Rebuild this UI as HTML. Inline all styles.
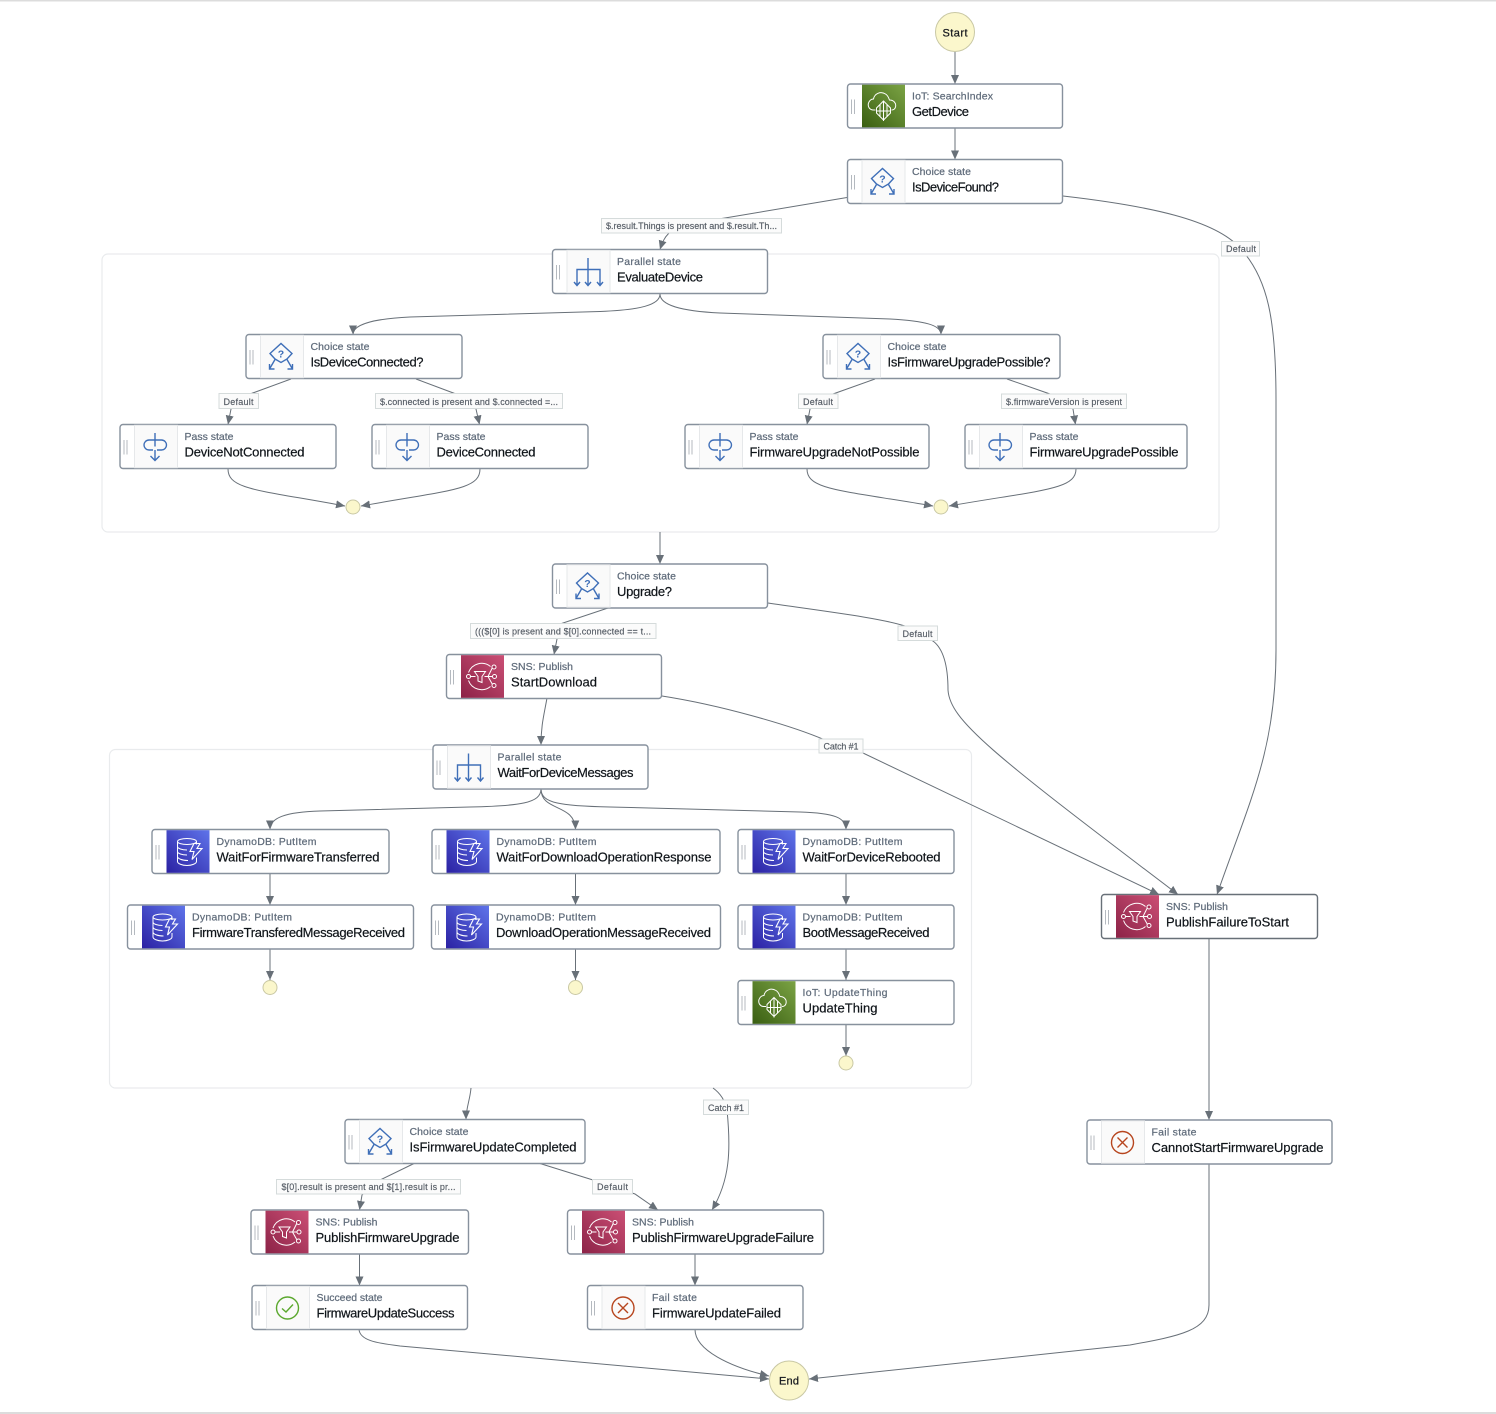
<!DOCTYPE html>
<html lang="en"><head><meta charset="utf-8"><title>State machine</title>
<style>
html,body{margin:0;padding:0;background:#fff;width:1496px;height:1414px;overflow:hidden}
svg{display:block;font-family:"Liberation Sans",sans-serif}
.b{fill:#fff;stroke:#87919d;stroke-width:1.4}
.h{stroke:#b4b9bf;stroke-width:1;fill:none}
.ib{fill:#fafafa;stroke:#e6e8ea;stroke-width:1}
.s{fill:#5f6b7a;font-size:10.5px;stroke:#5f6b7a;stroke-width:.22}
.m{fill:#0f1419;font-size:13px;stroke:#0f1419;stroke-width:.2}
.e{fill:none;stroke:#687078;stroke-width:1;marker-end:url(#a)}
.l{fill:#fbfbfb;stroke:#d5dbdb;stroke-width:1}
.t{fill:#545b64;font-size:9px;stroke:#545b64;stroke-width:.15}
.c{fill:#fbf7cc;stroke:#c9c8a4;stroke-width:1}
.bl{fill:none;stroke:#3f6fb8;stroke-width:1.4}
.w{fill:none;stroke:#fff;stroke-width:1}
.ct{fill:none;stroke:#e9ebed;stroke-width:1.2}
</style></head><body>
<svg width="1496" height="1414" viewBox="0 0 1496 1414" xmlns="http://www.w3.org/2000/svg">
<defs>
<marker id="a" markerUnits="userSpaceOnUse" markerWidth="10" markerHeight="9" refX="9" refY="4" orient="auto"><path d="M0 0L9 4L0 8z" fill="#687078"/></marker>
<linearGradient id="gi" x1="0" y1="1" x2="1" y2="0"><stop offset="0" stop-color="#3a5f12"/><stop offset="1" stop-color="#7ba344"/></linearGradient>
<linearGradient id="gs" x1="0" y1="1" x2="1" y2="0"><stop offset="0" stop-color="#8c2347"/><stop offset="1" stop-color="#cb4f75"/></linearGradient>
<linearGradient id="gd" x1="0" y1="1" x2="1" y2="0"><stop offset="0" stop-color="#2b21a3"/><stop offset="1" stop-color="#5f74ea"/></linearGradient>
<g id="hd"><path class="h" d="M4 15.500V30M7 15.500V30"/></g>
<g id="bgi"><rect class="ib" x="14.500" y=".8" width="43" height="42.4"/></g>
<g id="choice"><use href="#bgi"/><path class="bl" d="M29 24.500L24 19L35 9L46 19L41 24.500L35 28L29 24.500"/><path class="bl" d="M29 25L23.500 34.500M23.500 29.500V34.500H28.500M41 25L46.500 34.500M46.500 29.500V34.500H41.500"/><text x="35" y="23" text-anchor="middle" font-size="10.5" font-weight="bold" fill="#3f6fb8">?</text></g>
<g id="pass"><use href="#bgi"/><path class="bl" d="M35 8.500V22M35 25.500V36M30.500 31.500L35 36L39.500 31.500"/><path class="bl" d="M33 25.500H29C26 25.500 24 23 24 20.500C24 18 26 15.500 29 15.500H41.500C44.500 15.500 46.500 18 46.500 20.500C46.500 23 44.500 25.500 41.500 25.500H37"/></g>
<g id="par"><use href="#bgi"/><path class="bl" d="M35.500 8.500V36M24.500 36V20H47.500V36M21.500 32.500L24.500 36L27.500 32.500M32.500 32.500L35.500 36L38.500 32.500M44.500 32.500L47.500 36L50.500 32.500"/></g>
<g id="ok"><use href="#bgi"/><circle cx="35.500" cy="22.500" r="11" fill="none" stroke="#5ba82e" stroke-width="1.4"/><path d="M30 23L34 26.500L41 19" fill="none" stroke="#5ba82e" stroke-width="1.4"/></g>
<g id="fail"><use href="#bgi"/><circle cx="35.500" cy="22.500" r="11" fill="none" stroke="#b7461f" stroke-width="1.4"/><path d="M30.500 17.500L40.500 27.500M40.500 17.500L30.500 27.500" fill="none" stroke="#b7461f" stroke-width="1.4"/></g>
<g id="iot"><rect x="14.500" y=".7" width="43" height="42.600" fill="url(#gi)"/><path class="w" d="M28 26H26C22 26 20 22.500 21 19C22 16.500 24 15 26 15C27 9.500 33 7 38 10C41 12 41 14 42 16C46 16 49 19 48 23C47.500 25 46 26 44 26"/><path class="w" d="M36 17L43 24V29L36 36L29 29V24zM32.500 21V33M36 17V37M39.500 21V33M29 27H43"/></g>
<g id="sns"><rect x="14.500" y=".7" width="43" height="42.600" fill="url(#gs)"/><path class="w" d="M44 12A14 14 0 0 0 22 18M22 26A14 14 0 0 0 44 32"/><path class="w" d="M28 17H39L35.500 22V28L31.500 26.500V22zM24 22H29M38 22H46M41.500 22L46 13M41.500 22L46 30"/><circle cx="22" cy="22" r="2" fill="#a83058" stroke="#fff"/><circle cx="47.500" cy="12.500" r="2" fill="#a83058" stroke="#fff"/><circle cx="48" cy="22" r="2" fill="#a83058" stroke="#fff"/><circle cx="47.500" cy="31" r="2" fill="#a83058" stroke="#fff"/></g>
<g id="dyn"><rect x="14.500" y=".7" width="43" height="42.600" fill="url(#gd)"/><ellipse class="w" cx="35" cy="12" rx="9.500" ry="3"/><path class="w" d="M25.500 12V32C25.500 34 30 36 35 36C40 36 44.500 34 44.500 32V28M25.500 17C25.500 19 30 20.500 35 20.500M25.500 22C25.500 24 30 25.500 35 25.500M25.500 27C25.500 29 30 31 36 31M44.500 12V15"/><path d="M42 14L48 14L45 19H50L40 30L42 22H38z" fill="none" stroke="#fff" stroke-width="1.1"/></g>
</defs>

<rect x="0" y="0" width="1496" height="1.500" fill="#dcdcdc"/>
<rect x="0" y="1412" width="1496" height="2" fill="#dcdcdc"/>

<rect class="ct" x="102" y="254" width="1117" height="278" rx="6"/>
<rect class="ct" x="109.500" y="749.500" width="862" height="338.500" rx="6"/>

<!-- connectors -->
<path class="e" d="M955 52V84"/>
<path class="e" d="M955 128V159.500"/>
<path class="e" d="M847 197.500L725 218C700 222 690 224 669 233C664 238 662 243 660 249.500"/>
<path class="e" d="M1063 196C1150 206 1215 220 1240 248C1268 278 1276 320 1276 400V650C1276 750 1250 800 1217 894.500"/>
<path class="e" d="M660 294C660 305 640 310 600 311.500L410 317C370 319 353 325 353 334.500"/>
<path class="e" d="M660 294C660 305 680 311 720 313L890 319C925 321 941 325 941 334.500"/>
<path class="e" d="M291 379L250 394L231 409L228 424.500"/>
<path class="e" d="M416 379L456 394L476 409L479.500 424.500"/>
<path class="e" d="M875 379L833 394L810 409L807 424.500"/>
<path class="e" d="M1007 379L1050 394L1073 409L1075.500 424.500"/>
<path class="e" d="M228 469C228 490 260 490 345 506"/>
<path class="e" d="M480 469C480 490 450 490 361 506"/>
<path class="e" d="M807 469C807 490 840 490 933 506"/>
<path class="e" d="M1076 469C1076 490 1040 490 949 506"/>
<path class="e" d="M660 532V564"/>
<path class="e" d="M608 608L560 624L557 639L554 654.500"/>
<path class="e" d="M768 603C830 612 880 618 905 626L933 641C945 650 948 670 948 690C950 720 990 752 1178 894.500"/>
<path class="e" d="M547 698C544 715 541 725 541 745"/>
<path class="e" d="M662 696C720 705 790 725 825 740L863 753L1159 894.500"/>
<path class="e" d="M541 789C541 803 520 806 470 807L320 811C285 812 270 818 270 829.500"/>
<path class="e" d="M541 789C541 812 575 803 575.500 829.500"/>
<path class="e" d="M541 789C541 803 560 806 610 807L800 812C835 813 846 818 846 829.500"/>
<path class="e" d="M270 873.500V905"/>
<path class="e" d="M575.500 873.500V905"/>
<path class="e" d="M846 873.500V905"/>
<path class="e" d="M846 949V980"/>
<path class="e" d="M270 949V980"/>
<path class="e" d="M575.500 949V980"/>
<path class="e" d="M846 1024V1056"/>
<path class="e" d="M1209 939V1120"/>
<path class="e" d="M471 1088C470 1100 466 1108 466 1119.500"/>
<path class="e" d="M713 1088C720 1093 725 1100 727 1110C731 1150 730 1180 712 1210"/>
<path class="e" d="M414 1163.500L380 1180L362 1195L359.500 1210"/>
<path class="e" d="M540 1163.500L593 1180L635 1194L658 1210"/>
<path class="e" d="M359.500 1254V1285.500"/>
<path class="e" d="M695 1254V1285.500"/>
<path class="e" d="M359 1329.500C360 1340 375 1343 400 1346L769 1379"/>
<path class="e" d="M695 1329.500C695 1350 730 1367 769 1376"/>
<path class="e" d="M1209 1164V1305C1209 1330 1180 1336 1130 1345L809 1379"/>

<!-- start / end / joins -->
<circle class="c" cx="955" cy="32" r="19.500"/>
<text x="955" y="36.500" text-anchor="middle" font-size="11" fill="#16191f" stroke="#16191f" stroke-width=".25" textLength="25" lengthAdjust="spacing">Start</text>
<circle class="c" cx="789" cy="1380.500" r="19.500"/>
<text x="789" y="1384.500" text-anchor="middle" font-size="11" fill="#16191f" stroke="#16191f" stroke-width=".25" textLength="20" lengthAdjust="spacing">End</text>
<circle class="c" cx="353" cy="507" r="7"/>
<circle class="c" cx="941" cy="507" r="7"/>
<circle class="c" cx="270" cy="987.500" r="7"/>
<circle class="c" cx="575.500" cy="987.500" r="7"/>
<circle class="c" cx="846" cy="1063" r="7"/>

<!-- nodes -->
<g transform="translate(847.500,84)"><rect class="b" width="215" height="44" rx="3"/><use href="#hd"/><use href="#iot"/><text class="s" x="64.500" y="15.500" textLength="81" lengthAdjust="spacing">IoT: SearchIndex</text><text class="m" x="64.500" y="32" textLength="57" lengthAdjust="spacing">GetDevice</text></g>
<g transform="translate(847.500,159.500)"><rect class="b" width="215" height="44" rx="3"/><use href="#hd"/><use href="#choice"/><text class="s" x="64.500" y="15.500" textLength="59" lengthAdjust="spacing">Choice state</text><text class="m" x="64.500" y="32" textLength="87" lengthAdjust="spacing">IsDeviceFound?</text></g>
<g transform="translate(552.500,249.500)"><rect class="b" width="215" height="44" rx="3"/><use href="#hd"/><use href="#par"/><text class="s" x="64.500" y="15.500" textLength="64" lengthAdjust="spacing">Parallel state</text><text class="m" x="64.500" y="32" textLength="86" lengthAdjust="spacing">EvaluateDevice</text></g>
<g transform="translate(246,334.500)"><rect class="b" width="216" height="44" rx="3"/><use href="#hd"/><use href="#choice"/><text class="s" x="64.500" y="15.500" textLength="59" lengthAdjust="spacing">Choice state</text><text class="m" x="64.500" y="32" textLength="113" lengthAdjust="spacing">IsDeviceConnected?</text></g>
<g transform="translate(823,334.500)"><rect class="b" width="237" height="44" rx="3"/><use href="#hd"/><use href="#choice"/><text class="s" x="64.500" y="15.500" textLength="59" lengthAdjust="spacing">Choice state</text><text class="m" x="64.500" y="32" textLength="163" lengthAdjust="spacing">IsFirmwareUpgradePossible?</text></g>
<g transform="translate(120,424.500)"><rect class="b" width="216" height="44" rx="3"/><use href="#hd"/><use href="#pass"/><text class="s" x="64.500" y="15.500" textLength="49" lengthAdjust="spacing">Pass state</text><text class="m" x="64.500" y="32" textLength="120" lengthAdjust="spacing">DeviceNotConnected</text></g>
<g transform="translate(372,424.500)"><rect class="b" width="216" height="44" rx="3"/><use href="#hd"/><use href="#pass"/><text class="s" x="64.500" y="15.500" textLength="49" lengthAdjust="spacing">Pass state</text><text class="m" x="64.500" y="32" textLength="99" lengthAdjust="spacing">DeviceConnected</text></g>
<g transform="translate(685,424.500)"><rect class="b" width="244" height="44" rx="3"/><use href="#hd"/><use href="#pass"/><text class="s" x="64.500" y="15.500" textLength="49" lengthAdjust="spacing">Pass state</text><text class="m" x="64.500" y="32" textLength="170" lengthAdjust="spacing">FirmwareUpgradeNotPossible</text></g>
<g transform="translate(965,424.500)"><rect class="b" width="222" height="44" rx="3"/><use href="#hd"/><use href="#pass"/><text class="s" x="64.500" y="15.500" textLength="49" lengthAdjust="spacing">Pass state</text><text class="m" x="64.500" y="32" textLength="149" lengthAdjust="spacing">FirmwareUpgradePossible</text></g>
<g transform="translate(552.500,564)"><rect class="b" width="215" height="44" rx="3"/><use href="#hd"/><use href="#choice"/><text class="s" x="64.500" y="15.500" textLength="59" lengthAdjust="spacing">Choice state</text><text class="m" x="64.500" y="32" textLength="55" lengthAdjust="spacing">Upgrade?</text></g>
<g transform="translate(446.500,654.500)"><rect class="b" width="215" height="44" rx="3"/><use href="#hd"/><use href="#sns"/><text class="s" x="64.500" y="15.500" textLength="62" lengthAdjust="spacing">SNS: Publish</text><text class="m" x="64.500" y="32" textLength="86" lengthAdjust="spacing">StartDownload</text></g>
<g transform="translate(433,745)"><rect class="b" width="215" height="44" rx="3"/><use href="#hd"/><use href="#par"/><text class="s" x="64.500" y="15.500" textLength="64" lengthAdjust="spacing">Parallel state</text><text class="m" x="64.500" y="32" textLength="136" lengthAdjust="spacing">WaitForDeviceMessages</text></g>
<g transform="translate(152,829.500)"><rect class="b" width="237" height="44" rx="3"/><use href="#hd"/><use href="#dyn"/><text class="s" x="64.500" y="15.500" textLength="100" lengthAdjust="spacing">DynamoDB: PutItem</text><text class="m" x="64.500" y="32" textLength="163" lengthAdjust="spacing">WaitForFirmwareTransferred</text></g>
<g transform="translate(432,829.500)"><rect class="b" width="288" height="44" rx="3"/><use href="#hd"/><use href="#dyn"/><text class="s" x="64.500" y="15.500" textLength="100" lengthAdjust="spacing">DynamoDB: PutItem</text><text class="m" x="64.500" y="32" textLength="215" lengthAdjust="spacing">WaitForDownloadOperationResponse</text></g>
<g transform="translate(738,829.500)"><rect class="b" width="216" height="44" rx="3"/><use href="#hd"/><use href="#dyn"/><text class="s" x="64.500" y="15.500" textLength="100" lengthAdjust="spacing">DynamoDB: PutItem</text><text class="m" x="64.500" y="32" textLength="138" lengthAdjust="spacing">WaitForDeviceRebooted</text></g>
<g transform="translate(127.500,905)"><rect class="b" width="286" height="44" rx="3"/><use href="#hd"/><use href="#dyn"/><text class="s" x="64.500" y="15.500" textLength="100" lengthAdjust="spacing">DynamoDB: PutItem</text><text class="m" x="64.500" y="32" textLength="213" lengthAdjust="spacing">FirmwareTransferedMessageReceived</text></g>
<g transform="translate(431.500,905)"><rect class="b" width="289" height="44" rx="3"/><use href="#hd"/><use href="#dyn"/><text class="s" x="64.500" y="15.500" textLength="100" lengthAdjust="spacing">DynamoDB: PutItem</text><text class="m" x="64.500" y="32" textLength="215" lengthAdjust="spacing">DownloadOperationMessageReceived</text></g>
<g transform="translate(738,905)"><rect class="b" width="216" height="44" rx="3"/><use href="#hd"/><use href="#dyn"/><text class="s" x="64.500" y="15.500" textLength="100" lengthAdjust="spacing">DynamoDB: PutItem</text><text class="m" x="64.500" y="32" textLength="127" lengthAdjust="spacing">BootMessageReceived</text></g>
<g transform="translate(738,980.500)"><rect class="b" width="216" height="44" rx="3"/><use href="#hd"/><use href="#iot"/><text class="s" x="64.500" y="15.500" textLength="85" lengthAdjust="spacing">IoT: UpdateThing</text><text class="m" x="64.500" y="32" textLength="75" lengthAdjust="spacing">UpdateThing</text></g>
<g transform="translate(1101.500,894.500)"><rect class="b" style="stroke:#687078" width="216" height="44" rx="3"/><use href="#hd"/><use href="#sns"/><text class="s" x="64.500" y="15.500" textLength="62" lengthAdjust="spacing">SNS: Publish</text><text class="m" x="64.500" y="32" textLength="123" lengthAdjust="spacing">PublishFailureToStart</text></g>
<g transform="translate(345,1119.500)"><rect class="b" width="240" height="44" rx="3"/><use href="#hd"/><use href="#choice"/><text class="s" x="64.500" y="15.500" textLength="59" lengthAdjust="spacing">Choice state</text><text class="m" x="64.500" y="32" textLength="167" lengthAdjust="spacing">IsFirmwareUpdateCompleted</text></g>
<g transform="translate(1087,1120)"><rect class="b" width="245" height="44" rx="3"/><use href="#hd"/><use href="#fail"/><text class="s" x="64.500" y="15.500" textLength="45" lengthAdjust="spacing">Fail state</text><text class="m" x="64.500" y="32" textLength="172" lengthAdjust="spacing">CannotStartFirmwareUpgrade</text></g>
<g transform="translate(251,1210)"><rect class="b" width="217.500" height="44" rx="3"/><use href="#hd"/><use href="#sns"/><text class="s" x="64.500" y="15.500" textLength="62" lengthAdjust="spacing">SNS: Publish</text><text class="m" x="64.500" y="32" textLength="144" lengthAdjust="spacing">PublishFirmwareUpgrade</text></g>
<g transform="translate(567.500,1210)"><rect class="b" width="256" height="44" rx="3"/><use href="#hd"/><use href="#sns"/><text class="s" x="64.500" y="15.500" textLength="62" lengthAdjust="spacing">SNS: Publish</text><text class="m" x="64.500" y="32" textLength="182" lengthAdjust="spacing">PublishFirmwareUpgradeFailure</text></g>
<g transform="translate(252,1285.500)"><rect class="b" width="215.500" height="44" rx="3"/><use href="#hd"/><use href="#ok"/><text class="s" x="64.500" y="15.500" textLength="66" lengthAdjust="spacing">Succeed state</text><text class="m" x="64.500" y="32" textLength="138" lengthAdjust="spacing">FirmwareUpdateSuccess</text></g>
<g transform="translate(587.500,1285.500)"><rect class="b" width="215.500" height="44" rx="3"/><use href="#hd"/><use href="#fail"/><text class="s" x="64.500" y="15.500" textLength="45" lengthAdjust="spacing">Fail state</text><text class="m" x="64.500" y="32" textLength="129" lengthAdjust="spacing">FirmwareUpdateFailed</text></g>

<!-- labels -->
<rect class="l" x="601.500" y="218.500" width="180" height="14.500"/><text class="t" x="606" y="229" textLength="171" lengthAdjust="spacing">$.result.Things is present and $.result.Th...</text>
<rect class="l" x="1221.500" y="241.500" width="38" height="14.500"/><text class="t" x="1226" y="252" textLength="30" lengthAdjust="spacing">Default</text>
<rect class="l" x="219" y="393.500" width="39.500" height="15"/><text class="t" x="223.500" y="405" textLength="30" lengthAdjust="spacing">Default</text>
<rect class="l" x="375.500" y="393.500" width="187" height="15"/><text class="t" x="380" y="405" textLength="178" lengthAdjust="spacing">$.connected is present and $.connected =...</text>
<rect class="l" x="798.500" y="394" width="39.500" height="14.500"/><text class="t" x="803" y="405" textLength="30" lengthAdjust="spacing">Default</text>
<rect class="l" x="1001.500" y="394" width="125" height="14.500"/><text class="t" x="1006" y="405" textLength="116" lengthAdjust="spacing">$.firmwareVersion is present</text>
<rect class="l" x="470.500" y="623.500" width="185.500" height="15"/><text class="t" x="475" y="634.500" textLength="176" lengthAdjust="spacing">((($[0] is present and $[0].connected == t...</text>
<rect class="l" x="898" y="626" width="39.500" height="14.500"/><text class="t" x="902.500" y="637" textLength="30" lengthAdjust="spacing">Default</text>
<rect class="l" x="819" y="739" width="44" height="14"/><text class="t" x="823.500" y="749.500" textLength="35" lengthAdjust="spacing">Catch #1</text>
<rect class="l" x="703.500" y="1100" width="45" height="14.500"/><text class="t" x="708" y="1111" textLength="36" lengthAdjust="spacing">Catch #1</text>
<rect class="l" x="276.500" y="1179.500" width="184" height="14.500"/><text class="t" x="281.500" y="1190" textLength="174" lengthAdjust="spacing">$[0].result is present and $[1].result is pr...</text>
<rect class="l" x="592.500" y="1179.500" width="40" height="14.500"/><text class="t" x="597" y="1190" textLength="31" lengthAdjust="spacing">Default</text>
</svg>
</body></html>
